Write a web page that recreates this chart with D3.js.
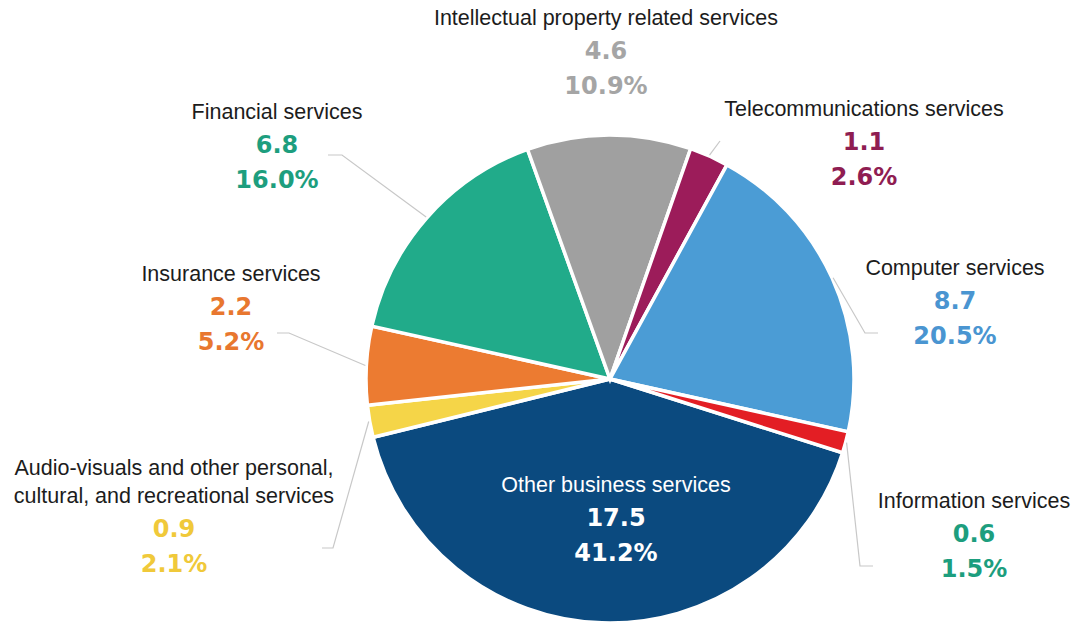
<!DOCTYPE html>
<html>
<head>
<meta charset="utf-8">
<script src="https://cdn.jsdelivr.net/npm/d3@7"></script>
<style>
  html, body { margin: 0; padding: 0; background: #fff; }
  svg { display: block; }
</style>
</head>
<body>
<svg id="chart" width="1083" height="622"></svg>
<script>
// Services categories, in clockwise order starting from "Other business services"
const categories = [
  "Other business services",
  "Audio-visuals and other personal, cultural, and recreational services",
  "Insurance services",
  "Financial services",
  "Intellectual property related services",
  "Telecommunications services",
  "Computer services",
  "Information services"
];
const values = [17.5, 0.9, 2.2, 6.8, 4.6, 1.1, 8.7, 0.6];
const shares = ["41.2%", "2.1%", "5.2%", "16.0%", "10.9%", "2.6%", "20.5%", "1.5%"];

const sliceColors = ["#0b4a7f", "#f5d548", "#ec7b31", "#21ab8a", "#a0a0a0", "#9c1c5a", "#4b9cd5", "#e31e24"];
const labelColors = ["#ffffff", "#f0c93a", "#e8772f", "#1d9e7e", "#a5a5a5", "#8f1d52", "#4a95d1", "#1d9e7e"];

// Label placement: name lines, anchor (centre x, first baseline), leader path
const labelLayout = [
  { lines: ["Other business services"], x: 616, y: 492, nameFill: "#ffffff", leader: null },
  { lines: ["Audio-visuals and other personal,", "cultural, and recreational services"], x: 174, y: 475, leader: [[333, 548], [322, 548]] },
  { lines: ["Insurance services"], x: 231, y: 281, leader: [[289, 333], [277, 333]] },
  { lines: ["Financial services"], x: 277, y: 119, leader: [[342, 155], [328, 155]] },
  { lines: ["Intellectual property related services"], x: 606, y: 25, leader: null },
  { lines: ["Telecommunications services"], x: 864, y: 116, leader: [[720, 141]] },
  { lines: ["Computer services"], x: 955, y: 275, leader: [[865, 333], [878, 333]] },
  { lines: ["Information services"], x: 974, y: 508, leader: [[860, 566], [873, 566]] }
];

const svg = d3.select("#chart");
const cx = 610, cy = 379, radius = 244;
const startDeg = 107.6;

const pie = d3.pie()
  .sort(null)
  .value(d => d)
  .startAngle(startDeg * Math.PI / 180)
  .endAngle((startDeg + 360) * Math.PI / 180);

const arcs = pie(values);
const arc = d3.arc().innerRadius(0).outerRadius(radius);

const g = svg.append("g").attr("transform", `translate(${cx},${cy})`);

g.selectAll("path.slice")
  .data(arcs)
  .join("path")
  .attr("class", "slice")
  .attr("d", arc)
  .attr("fill", (d, i) => sliceColors[i])
  .attr("stroke", "#ffffff")
  .attr("stroke-width", 3.5)
  .attr("stroke-linejoin", "miter");

// Leader lines from slice rim to label
const line = d3.line();
arcs.forEach((a, i) => {
  const lay = labelLayout[i];
  if (!lay.leader) return;
  const mid = (a.startAngle + a.endAngle) / 2;
  const r0 = radius + 1;
  const start = [cx + r0 * Math.sin(mid), cy - r0 * Math.cos(mid)];
  svg.append("path")
    .attr("d", line([start, ...lay.leader]))
    .attr("fill", "none")
    .attr("stroke", "#c8c8c8")
    .attr("stroke-width", 1.2);
});

// Labels: category name, value, share
const nameFont = "'Liberation Sans', Arial, sans-serif";
const numFont = "'DejaVu Sans', sans-serif";
const lineH = 28;

labelLayout.forEach((lay, i) => {
  const lg = svg.append("g").attr("class", "label");
  lay.lines.forEach((t, k) => {
    lg.append("text")
      .attr("x", lay.x)
      .attr("y", lay.y + k * lineH)
      .attr("text-anchor", "middle")
      .attr("font-family", nameFont)
      .attr("font-size", 21.5)
      .attr("fill", lay.nameFill || "#1c1c1c")
      .text(t);
  });
  const last = lay.y + (lay.lines.length - 1) * lineH;
  lg.append("text")
    .attr("x", lay.x)
    .attr("y", last + 34)
    .attr("text-anchor", "middle")
    .attr("font-family", numFont)
    .attr("font-weight", "bold")
    .attr("font-size", 24)
    .attr("fill", labelColors[i])
    .text(d3.format(".1f")(values[i]));
  lg.append("text")
    .attr("x", lay.x)
    .attr("y", last + 69)
    .attr("text-anchor", "middle")
    .attr("font-family", numFont)
    .attr("font-weight", "bold")
    .attr("font-size", 24)
    .attr("fill", labelColors[i])
    .text(shares[i]);
});
</script>
</body>
</html>
